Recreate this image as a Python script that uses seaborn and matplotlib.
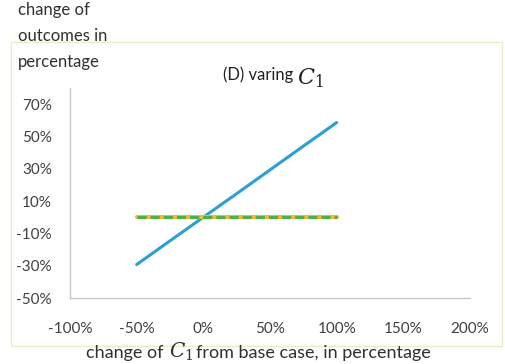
import matplotlib
matplotlib.use("Agg")
import matplotlib.pyplot as plt
from matplotlib.patches import Rectangle
from matplotlib.ticker import FuncFormatter, FixedLocator
import seaborn as sns
import pandas as pd

# change of C1 from base case
x_change = [-0.50, -0.25, 0.0, 0.25, 0.50, 0.75, 1.00]
# change of outcomes for each series
outcome_a = [-0.293, -0.146, 0.0, 0.146, 0.293, 0.440, 0.586]
outcome_b = [0.003, 0.003, 0.003, 0.003, 0.003, 0.003, 0.003]
outcome_c = [0.002, 0.002, 0.002, 0.002, 0.002, 0.002, 0.002]

y_ticks = [-0.5, -0.3, -0.1, 0.1, 0.3, 0.5, 0.7]
x_ticks = [-1.0, -0.5, 0.0, 0.5, 1.0, 1.5, 2.0]

sns.set_theme(style="white")
plt.rcParams["font.family"] = ["Lato", "DejaVu Sans"]
plt.rcParams["mathtext.fontset"] = "dejavuserif"

W, H = 506, 364
fig = plt.figure(figsize=(W / 100, H / 100), dpi=100)
ax = fig.add_axes([70 / W, (H - 298) / H, 400 / W, 210 / H])

df = pd.DataFrame({"x": x_change, "a": outcome_a, "b": outcome_b, "c": outcome_c})
sns.lineplot(data=df, x="x", y="a", ax=ax, color="#2b9fd6", linewidth=2.2)
sns.lineplot(data=df, x="x", y="b", ax=ax, color="#f7b928", linewidth=3.0)
sns.lineplot(data=df, x="x", y="c", ax=ax, color="#4caf50", linewidth=2.2,
             linestyle=(0, (3.0, 1.3)))

ax.set_xlim(-1.0, 2.0)
ax.set_ylim(-0.5, 0.8)
ax.xaxis.set_major_locator(FixedLocator(x_ticks))
ax.yaxis.set_major_locator(FixedLocator(y_ticks))
pct = FuncFormatter(lambda v, _: f"{v * 100:.0f}%")
ax.xaxis.set_major_formatter(pct)
ax.yaxis.set_major_formatter(pct)
ax.tick_params(axis="both", length=0, labelsize=11, labelcolor="#404040")
ax.tick_params(axis="x", pad=17)
ax.tick_params(axis="y", pad=13)
ax.set_xlabel("")
ax.set_ylabel("")
for side in ("top", "right"):
    ax.spines[side].set_visible(False)
for side in ("left", "bottom"):
    ax.spines[side].set_color("#c8c8c8")
    ax.spines[side].set_linewidth(1.0)

# outer chart frame
fig.patches.append(Rectangle((11 / W, (H - 346) / H), 491 / W, 304 / H,
                             transform=fig.transFigure, fill=False,
                             edgecolor="#ecebc4", linewidth=0.9))


def fy(py):
    return 1 - py / H


# chart title
fig.text(293 / W, fy(75), "(D) varing", fontsize=12, color="#202020",
         ha="right", va="center")
fig.text(297 / W, fy(78), r"$\mathit{C}_1$", fontsize=16, color="#202020",
         ha="left", va="center")

# value axis title
fig.text(18 / W, fy(2), "change of\noutcomes in\npercentage", fontsize=12,
         color="#303030", ha="left", va="top", linespacing=1.78)

# category axis title
fig.text(164 / W, fy(353), "change of", fontsize=13, color="#303030",
         ha="right", va="center")
fig.text(169 / W, fy(352), r"$\mathit{C}_1$", fontsize=14.5, color="#303030",
         ha="left", va="center")
fig.text(196 / W, fy(353), "from base case, in percentage", fontsize=13,
         color="#303030", ha="left", va="center")

fig.savefig("out.png", dpi=100)
